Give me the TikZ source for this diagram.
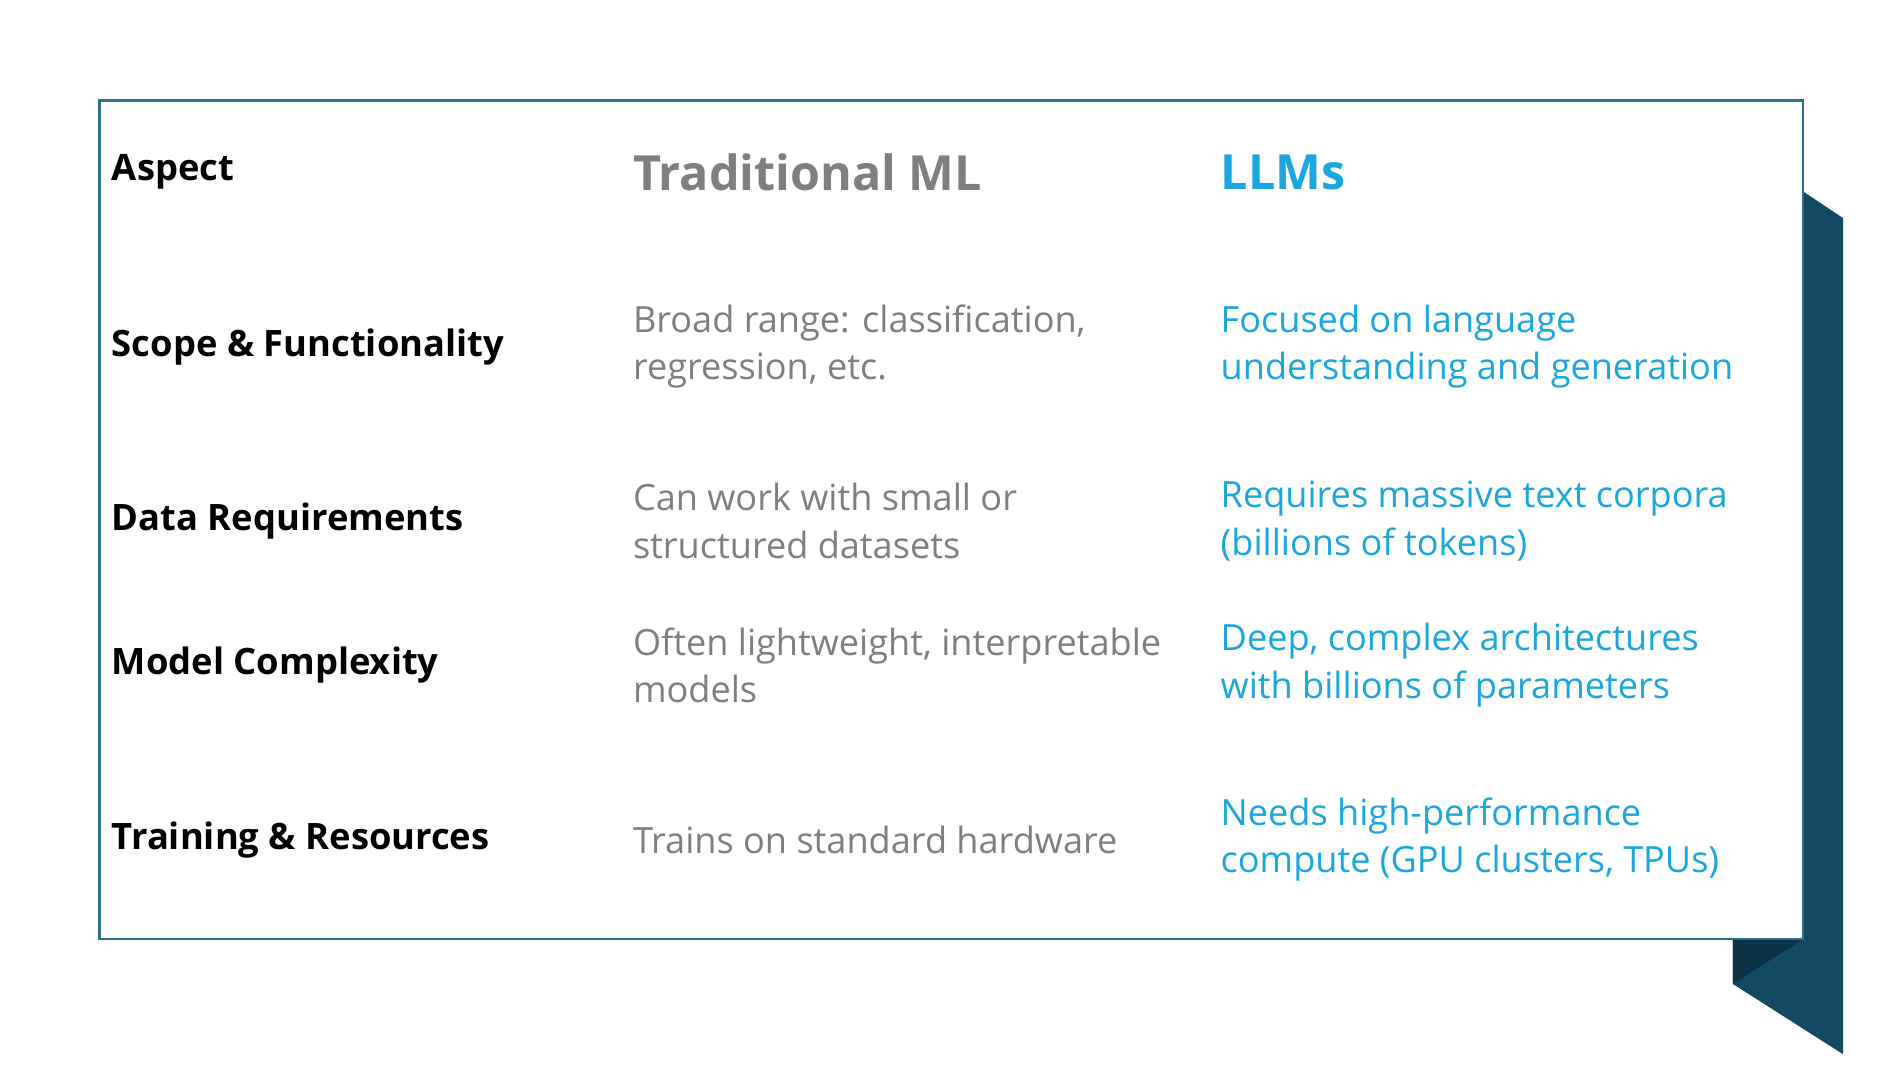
\documentclass[tikz,border=0pt]{standalone}
\usepackage{fontspec}
\setmainfont{Open Sans}
\definecolor{frame}{HTML}{2E6E8A}
\definecolor{dark}{HTML}{134A63}
\definecolor{darker}{HTML}{0C3246}
\definecolor{gr}{HTML}{7F7F7F}
\definecolor{bl}{HTML}{1BA6DF}
\begin{document}
\begin{tikzpicture}[x=0.5pt,y=-0.5pt,
  asp/.style={anchor=west,font=\fontsize{15}{16}\selectfont\bfseries,text=black,inner sep=0},
  trad/.style={anchor=west,align=left,font=\fontsize{14.9}{19.5}\selectfont,text=gr,inner sep=0},
  llm/.style={anchor=west,align=left,font=\fontsize{14.9}{19.5}\selectfont,text=bl,inner sep=0}]
\useasboundingbox (0,0) rectangle (1568,882);
\fill[dark] (1488,158) -- (1521,180) -- (1521,870) -- (1430,812) -- (1430,775) -- (1488,775) -- cycle;
\fill[darker] (1430,775) -- (1488,775) -- (1430,812) -- cycle;
\draw[frame,line width=1pt,fill=white] (82,83) rectangle (1488,775);
\node[asp] (h0) at (92,142) {Aspect};
\node[anchor=west,inner sep=0,font=\fontsize{20}{24}\selectfont\bfseries,text=gr] (h1) at (522,142) {Traditional ML};
\node[anchor=west,inner sep=0,font=\fontsize{20}{24}\selectfont\bfseries,text=bl] (h2) at (1007,142) {LLMs};
\node[asp] (a1) at (92,286) {Scope \& Functionality};
\node[trad] (t1) at (522,286) {Broad range: classification,\\regression, etc.};
\node[llm] (l1) at (1007,286) {Focused on language\\understanding and generation};
\node[asp] (a2) at (92,430) {Data Requirements};
\node[trad] (t2) at (522,430) {Can work with small or\\structured datasets};
\node[llm] (l2) at (1007,430) {Requires massive text corpora\\(billions of tokens)};
\node[asp] (a3) at (92,549) {Model Complexity};
\node[trad] (t3) at (522,549) {Often lightweight, interpretable\\models};
\node[llm] (l3) at (1007,549) {Deep, complex architectures\\with billions of parameters};
\node[asp] (a4) at (92,693) {Training \& Resources};
\node[trad] (t4) at (522,693) {Trains on standard hardware};
\node[llm] (l4) at (1007,693) {Needs high-performance\\compute (GPU clusters, TPUs)};
\end{tikzpicture}
\end{document}
